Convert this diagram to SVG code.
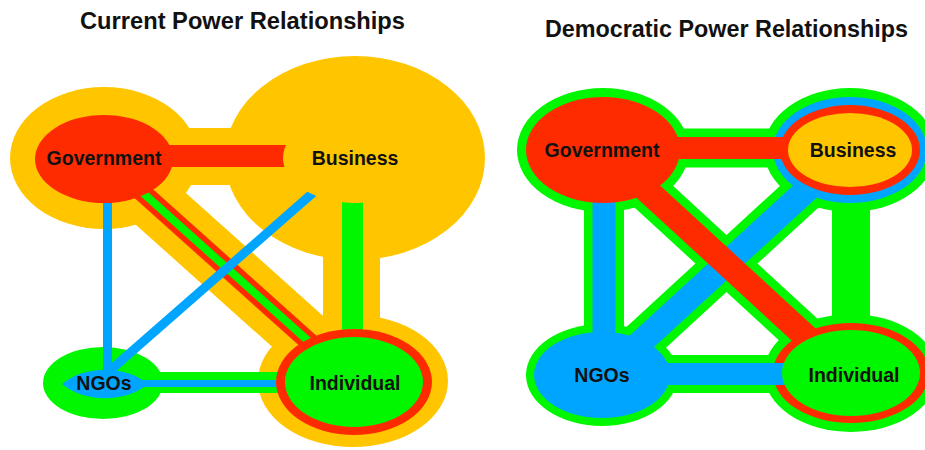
<svg xmlns="http://www.w3.org/2000/svg" width="925" height="450" viewBox="0 0 925 450">
<style>
.lbl{font-family:"Liberation Sans",Arial,sans-serif;font-weight:bold;font-size:19.5px;text-anchor:middle;fill:#111}
.ttl{font-family:"Liberation Sans",Arial,sans-serif;font-weight:bold;font-size:23px;text-anchor:middle;fill:#111}
.fy{fill:#FFC600}.fr{fill:#FF2B00}.fg{fill:#00F700}.fb{fill:#00A5FF}
.s{fill:none;stroke-linecap:butt}
.sy{stroke:#FFC600}.sr{stroke:#FF2B00}.sg{stroke:#00F700}.sb{stroke:#00A5FF}
</style>
<rect width="925" height="450" fill="#fff"/>
<text class="ttl" x="242.5" y="29" textLength="325" lengthAdjust="spacingAndGlyphs">Current Power Relationships</text>
<text class="ttl" x="726.5" y="37" textLength="363" lengthAdjust="spacingAndGlyphs">Democratic Power Relationships</text>

<!-- LEFT: Current -->
<g id="halos-current">
  <ellipse id="gov-current-halo" class="fy" cx="104" cy="158" rx="94" ry="71"/>
  <ellipse id="business-current-halo" class="fy" cx="355" cy="158" rx="130" ry="102"/>
  <ellipse id="individual-current-halo" class="fy" cx="353" cy="381" rx="95" ry="66"/>
  <ellipse id="ngos-current-halo" class="fg" cx="103" cy="383" rx="60" ry="36"/>
</g>
<g id="connectors-current">
  <line class="s sy" x1="104" y1="156.5" x2="355" y2="156.5" stroke-width="57"/>
  <line class="s sy" x1="104" y1="158" x2="353" y2="381" stroke-width="57"/>
  <line class="s sy" x1="351.5" y1="158" x2="351.5" y2="381" stroke-width="57"/>
  <line class="s sg" x1="103" y1="382.5" x2="354" y2="382.5" stroke-width="21"/>
  <line class="s sr" x1="104" y1="156" x2="355" y2="156" stroke-width="22"/>
  <line class="s sr" x1="104" y1="158" x2="354" y2="382" stroke-width="19"/>
  <line class="s sg" x1="104" y1="158" x2="354" y2="382" stroke-width="8"/>
  <line class="s sg" x1="352.5" y1="158" x2="352.5" y2="382" stroke-width="21"/>
  <line class="s sb" x1="107.5" y1="159" x2="107.5" y2="383" stroke-width="9"/>
  <line class="s sb" x1="355" y1="156" x2="106" y2="374" stroke-width="9"/>
  <line class="s sb" x1="103" y1="383.5" x2="354" y2="383.5" stroke-width="7"/>
</g>
<g id="gov-current">
  <ellipse class="fr" cx="104" cy="159" rx="69" ry="44"/>
  <text class="lbl" x="104" y="165">Government</text>
</g>
<g id="business-current">
  <ellipse class="fy" cx="355" cy="158" rx="72" ry="45"/>
  <text class="lbl" x="355" y="165">Business</text>
</g>
<g id="ngos-current">
  <path class="fb" d="M62,384 C85,365 125,365 148,384 C125,403 85,403 62,384 Z"/>
  <text class="lbl" x="104" y="390">NGOs</text>
</g>
<g id="individual-current">
  <ellipse class="fr" cx="354" cy="382" rx="78" ry="53"/>
  <ellipse class="fg" cx="354" cy="382" rx="69" ry="45"/>
  <text class="lbl" x="355" y="390">Individual</text>
</g>

<!-- RIGHT: Democratic -->
<g id="halos-democratic">
  <ellipse id="gov-democratic-halo" class="fg" cx="603" cy="150" rx="86" ry="62"/>
  <ellipse id="business-democratic-halo" class="fg" cx="850" cy="150" rx="86" ry="62"/>
  <ellipse id="ngos-democratic-halo" class="fg" cx="602" cy="375" rx="76" ry="51"/>
  <ellipse id="individual-democratic-halo" class="fg" cx="851" cy="373" rx="87" ry="59"/>
</g>
<g id="connectors-democratic-outline">
  <line class="s sg" x1="603" y1="148" x2="850" y2="148" stroke-width="39"/>
  <line class="s sg" x1="604" y1="150" x2="604" y2="375" stroke-width="40"/>
  <line class="s sg" x1="603" y1="150" x2="851" y2="378" stroke-width="42"/>
  <line class="s sg" x1="850" y1="150" x2="602" y2="378" stroke-width="42"/>
  <line class="s sg" x1="602" y1="374" x2="851" y2="374" stroke-width="38"/>
  <line class="s sg" x1="851" y1="150" x2="851" y2="373" stroke-width="38"/>
</g>
<g id="rings-democratic">
  <ellipse id="business-democratic-ring" class="fb" cx="850" cy="150" rx="77" ry="53"/>
  <ellipse id="individual-democratic-ring" class="fr" cx="851" cy="373" rx="78" ry="50"/>
</g>
<g id="connectors-democratic">
  <line class="s sr" x1="603" y1="148" x2="850" y2="148" stroke-width="22"/>
  <line class="s sb" x1="604" y1="150" x2="604" y2="375" stroke-width="23"/>
  <line class="s sb" x1="850" y1="150" x2="602" y2="378" stroke-width="25"/>
  <line class="s sr" x1="603" y1="150" x2="851" y2="378" stroke-width="25"/>
  <line class="s sb" x1="602" y1="374" x2="851" y2="374" stroke-width="22"/>
</g>
<g id="gov-democratic">
  <ellipse class="fr" cx="603" cy="150" rx="77" ry="53"/>
  <text class="lbl" x="602" y="157">Government</text>
</g>
<g id="business-democratic">
  <ellipse class="fr" cx="850" cy="150" rx="70" ry="45"/>
  <ellipse class="fy" cx="850" cy="150" rx="62" ry="37"/>
  <text class="lbl" x="853" y="157">Business</text>
</g>
<g id="ngos-democratic">
  <ellipse class="fb" cx="602" cy="375" rx="68" ry="43"/>
  <text class="lbl" x="602" y="382">NGOs</text>
</g>
<g id="individual-democratic">
  <ellipse class="fg" cx="851" cy="373" rx="69" ry="43"/>
  <text class="lbl" x="854" y="382">Individual</text>
</g>
</svg>
